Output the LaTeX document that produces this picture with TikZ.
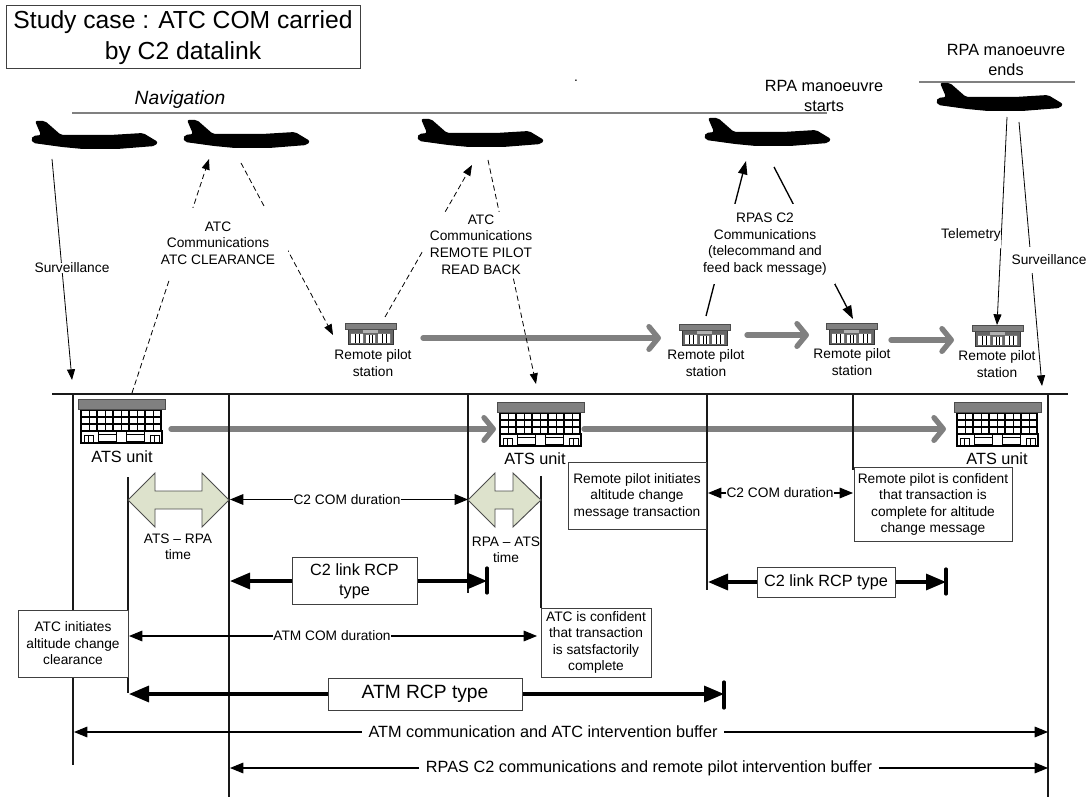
\documentclass[tikz,border=0pt]{standalone}
\usepackage{fontspec}
\setmainfont{Liberation Sans}
\usetikzlibrary{arrows.meta}
\definecolor{bandgray}{HTML}{808080}
\definecolor{paleolive}{HTML}{DDE2CC}
\tikzset{
  base/.style={font=\fontsize{10.3}{12.4}\selectfont, align=center, inner sep=0pt},
  mid/.style={font=\fontsize{12.2}{15}\selectfont, align=center, inner sep=0pt},
  textbox/.style={base, draw=black!75, fill=white, line width=0.75pt},
  rcpbox/.style={mid, draw=black!75, fill=white, line width=0.75pt},
  gap/.style={base, fill=white},
  timeline/.style={line width=1pt, black!90},
  overline/.style={line width=1pt, bandgray},
  comm/.style={line width=0.6pt, -{Triangle[length=8pt,width=6pt]}},
  commdash/.style={comm, dash pattern=on 4pt off 2.5pt},
  commstrong/.style={line width=1pt, -{Triangle[length=10pt,width=7pt]}},
  span/.style={line width=0.8pt, -{Triangle[length=10pt,width=8pt]}},
  rcparrow/.style={line width=2.4pt, -{Triangle[length=15pt,width=12pt]}},
  rcpbar/.style={line width=2.4pt, line cap=round},
  flow/.style={line width=4pt, bandgray, line cap=round, -{Straight Barb[length=7pt,width=17pt,round]}},
  blockarrow/.style={fill=paleolive, draw=black!70, line width=0.7pt},
  plane/.pic={
    \fill[black, rounded corners=1.5pt] (0,0) -- (10,0) -- (26,14) -- (75,14) -- (108,12) -- (123,21)
      -- (120,25) -- (82,28) -- (48,28) -- (27,26) -- (-2,22) -- (-4,18) -- (-2,15) -- (6,14) -- cycle;
  },
  atsbuilding/.pic={
    \fill[white] (3,10) rectangle (84,44);
    \foreach \c in {0,...,4} {
      \foreach \r in {0,1,2} {
        \draw[line width=0.9pt] (3+16*\c,11+7*\r) rectangle +(16,7);
        \draw[line width=0.5pt] (11+16*\c,11+7*\r) -- +(0,7);
      }
    }
    \draw[line width=0.8pt] (3,32) rectangle (84,44);
    \draw[line width=0.5pt] (6,36) rectangle (15,44) (10.5,36) -- (10.5,44);
    \draw[line width=0.5pt] (72,36) rectangle (81,44) (76.5,36) -- (76.5,44);
    \draw[line width=0.6pt] (20,32) rectangle (38,42) (20,35) -- (38,35);
    \draw[line width=0.6pt] (48,32) rectangle (66,42) (48,35) -- (66,35);
    \fill[bandgray, draw=black!70, line width=0.5pt] (0,0) rectangle (87,10);
  },
  stationbuilding/.pic={
    \fill[black!60] (3,6) rectangle (48,21);
    \fill[white] (6,11) rectangle (18,20) (33,11) rectangle (45,20) (21,12) rectangle (30,20);
    \draw[line width=0.5pt] (10,11) -- (10,20) (14,11) -- (14,20) (37,11) -- (37,20) (41,11) -- (41,20);
    \draw[line width=0.5pt] (24,12) -- (24,20) (27,12) -- (27,20);
    \draw[line width=0.6pt, black!80] (3,6) rectangle (48,21);
    \fill[black!30] (18,6) rectangle (33,10);
    \fill[bandgray, draw=black!70, line width=0.5pt] (0,0) rectangle (51,6);
  },
}
\begin{document}
\begin{tikzpicture}[x=0.75pt, y=-0.75pt]
  \useasboundingbox (0,0) rectangle (1089,798);

  \node[mid, draw=black!75, line width=0.75pt, font=\fontsize{18.5}{23}\selectfont, minimum width=265.5pt, minimum height=47.25pt] (titlebox) at (183,37.5) {Study case : ATC COM carried\\by C2 datalink};
  \node[font=\fontsize{14.4}{17}\selectfont\itshape, inner sep=0pt] (navlabel) at (180,100) {Navigation};
  \node[mid] (startlabel) at (824,95.5) {RPA manoeuvre\\starts};
  \node[mid] (endlabel) at (1006,60) {RPA manoeuvre\\ends};
  \node[base] (speck) at (576,81) {.};

  \coordinate (navleft) at (72,113);
  \coordinate (navright) at (827,113);
  \coordinate (endleft) at (919,82);
  \coordinate (endright) at (1075,82);
  \draw[overline] (navleft) -- (navright);
  \draw[overline] (endleft) -- (endright);

  \pic at (35,121) {plane};
  \pic at (187,120) {plane};
  \pic at (421,119) {plane};
  \pic at (708,118) {plane};
  \pic at (940,83) {plane};

  \pic at (345,323) {stationbuilding};
  \pic at (679,324) {stationbuilding};
  \pic at (826,323) {stationbuilding};
  \pic at (972,325) {stationbuilding};
  \node[base] (stationa) at (373,363) {Remote pilot\\station};
  \node[base] (stationb) at (706,363) {Remote pilot\\station};
  \node[base] (stationc) at (852,362) {Remote pilot\\station};
  \node[base] (stationd) at (997,364) {Remote pilot\\station};

  \coordinate (flowa) at (423,338);
  \coordinate (flowb) at (661,338);
  \coordinate (flowc) at (747,335);
  \coordinate (flowd) at (809,335);
  \coordinate (flowe) at (891,340);
  \coordinate (flowf) at (954,340);
  \coordinate (flowg) at (171,429);
  \coordinate (flowh) at (496,429);
  \coordinate (flowi) at (584,429);
  \coordinate (flowj) at (946,429);
  \draw[flow] (flowa) -- (flowb);
  \draw[flow] (flowc) -- (flowd);
  \draw[flow] (flowe) -- (flowf);
  \draw[flow] (flowg) -- (flowh);
  \draw[flow] (flowi) -- (flowj);

  \coordinate (survtop) at (52,159);
  \coordinate (survend) at (72,380);
  \draw[comm] (survtop) -- (survend);
  \node[gap] (survleft) at (72,268) {Surveillance};

  \coordinate (clrfoot) at (132,393);
  \coordinate (clrtip) at (209,159);
  \coordinate (clrtop) at (241,163);
  \coordinate (clrend) at (333,335);
  \draw[commdash] (clrfoot) -- (clrtip);
  \draw[commdash] (clrtop) -- (clrend);
  \node[gap, minimum width=105pt, minimum height=52pt] (clrlabel) at (218,243) {ATC\\Communications\\ATC CLEARANCE};

  \coordinate (readfoot) at (385,317);
  \coordinate (readtip) at (472,165);
  \coordinate (readtop) at (488,160);
  \coordinate (readend) at (536,384);
  \draw[commdash] (readfoot) -- (readtip);
  \draw[commdash] (readtop) -- (readend);
  \node[gap, minimum width=87pt, minimum height=48.75pt] (readlabel) at (481,244.5) {ATC\\Communications\\REMOTE PILOT\\READ BACK};

  \coordinate (cmdfoot) at (706,316);
  \coordinate (cmdtip) at (746,161);
  \coordinate (cmdtop) at (774,167);
  \coordinate (cmdend) at (853,319);
  \draw[commstrong] (cmdfoot) -- (cmdtip);
  \draw[commstrong] (cmdtop) -- (cmdend);
  \node[gap, minimum width=105pt, minimum height=60pt] (cmdlabel) at (765,244) {RPAS C2\\Communications\\(telecommand and\\feed back message)};

  \coordinate (teletop) at (1007,117);
  \coordinate (teleend) at (997,325);
  \draw[comm] (teletop) -- (teleend);
  \node[gap, minimum height=20pt] (telelabel) at (971,234.5) {Telemetry};

  \coordinate (survtopb) at (1019,122);
  \coordinate (survendb) at (1042,386);
  \draw[comm] (survtopb) -- (survendb);
  \node[gap, minimum height=19pt] (survright) at (1049,260) {Surveillance};

  \coordinate (groundleft) at (52,394);
  \coordinate (groundright) at (1068,394);
  \draw[timeline] (groundleft) -- (groundright);

  \coordinate (vaa) at (73,394);
  \coordinate (vab) at (73,765);
  \coordinate (vba) at (128,477);
  \coordinate (vbb) at (128,693);
  \coordinate (vca) at (229,394);
  \coordinate (vcb) at (229,797);
  \coordinate (vda) at (468,394);
  \coordinate (vdb) at (468,593);
  \coordinate (vea) at (541,476);
  \coordinate (veb) at (541,608);
  \coordinate (vfa) at (707,394);
  \coordinate (vfb) at (707,590);
  \coordinate (vga) at (853,394);
  \coordinate (vgb) at (853,470);
  \coordinate (vha) at (1048,394);
  \coordinate (vhb) at (1048,797);
  \draw[timeline] (vaa) -- (vab);
  \draw[timeline] (vba) -- (vbb);
  \draw[timeline] (vca) -- (vcb);
  \draw[timeline] (vda) -- (vdb);
  \draw[timeline] (vea) -- (veb);
  \draw[timeline] (vfa) -- (vfb);
  \draw[timeline] (vga) -- (vgb);
  \draw[timeline] (vha) -- (vhb);

  \pic at (78,399) {atsbuilding};
  \pic at (497,402) {atsbuilding};
  \pic at (954,402) {atsbuilding};
  \node[mid] (atsa) at (122,457) {ATS unit};
  \node[mid] (atsb) at (535,459) {ATS unit};
  \node[mid] (atsc) at (997,459) {ATS unit};

  \draw[blockarrow] (128,500) -- (155,473) -- (155,491) -- (202,491) -- (202,473) -- (229,500) -- (202,527) -- (202,509) -- (155,509) -- (155,527) -- cycle;
  \draw[blockarrow] (468,500) -- (495,473) -- (495,491) -- (513,491) -- (513,473) -- (541,500) -- (513,527) -- (513,509) -- (495,509) -- (495,527) -- cycle;
  \node[base] (atsrpa) at (178,547) {ATS -- RPA\\time};
  \node[base] (rpaats) at (506,550) {RPA -- ATS\\time};

  \node[gap] (comla) at (347,499.5) {C2 COM duration};
  \coordinate (comlaa) at (230,499.5);
  \coordinate (comlab) at (468,499.5);
  \draw[span] (comla) -- (comlaa);
  \draw[span] (comla) -- (comlab);

  \node[gap] (comlb) at (780,493) {C2 COM duration};
  \coordinate (comlba) at (708,493);
  \coordinate (comlbb) at (853,493);
  \draw[span] (comlb) -- (comlba);
  \draw[span] (comlb) -- (comlbb);

  \node[gap] (atmcom) at (332,636) {ATM COM duration};
  \coordinate (atmcoma) at (129,636);
  \coordinate (atmcomb) at (537,636);
  \draw[span] (atmcom) -- (atmcoma);
  \draw[span] (atmcom) -- (atmcomb);

  \node[textbox, minimum width=103.5pt, minimum height=49.5pt] (rpinit) at (637,496) {Remote pilot initiates\\altitude change\\message transaction};
  \node[textbox, minimum width=118.5pt, minimum height=54.75pt] (rpconf) at (933,504.5) {Remote pilot is confident\\that transaction is\\complete for altitude\\change message};
  \node[textbox, minimum width=82.5pt, minimum height=50.25pt] (atcinit) at (73,643.5) {ATC initiates\\altitude change\\clearance};
  \node[textbox, minimum width=82.5pt, minimum height=51.75pt] (atcconf) at (596,642.5) {ATC is confident\\that transaction\\is satsfactorily\\complete};

  \node[rcpbox, minimum width=93.75pt, minimum height=35.25pt] (rcpa) at (354.5,581) {C2 link RCP\\type};
  \coordinate (rcpaleft) at (230,581);
  \coordinate (rcparight) at (487,581);
  \coordinate (baratop) at (487,568);
  \coordinate (barabot) at (487,593);
  \draw[rcparrow] (rcpa) -- (rcpaleft);
  \draw[rcparrow] (rcpa) -- (rcparight);
  \draw[rcpbar] (baratop) -- (barabot);

  \node[rcpbox, minimum width=103.5pt, minimum height=22.5pt] (rcpb) at (826,582) {C2 link RCP type};
  \coordinate (rcpbleft) at (708,582);
  \coordinate (rcpbright) at (946,582);
  \coordinate (barbtop) at (946,569);
  \coordinate (barbbot) at (946,594);
  \draw[rcparrow] (rcpb) -- (rcpbleft);
  \draw[rcparrow] (rcpb) -- (rcpbright);
  \draw[rcpbar] (barbtop) -- (barbbot);

  \node[rcpbox, font=\fontsize{14.4}{17}\selectfont, minimum width=145.5pt, minimum height=24pt] (rcpc) at (425,694) {ATM RCP type};
  \coordinate (rcpcleft) at (129,694);
  \coordinate (rcpcright) at (724,694);
  \coordinate (barctop) at (724,682);
  \coordinate (barcbot) at (724,708);
  \draw[rcparrow] (rcpc) -- (rcpcleft);
  \draw[rcparrow] (rcpc) -- (rcpcright);
  \draw[rcpbar] (barctop) -- (barcbot);

  \node[mid, fill=white, inner xsep=5pt] (atmbuf) at (543,732) {ATM communication and ATC intervention buffer};
  \coordinate (atmbufa) at (74,732);
  \coordinate (atmbufb) at (1048,732);
  \draw[span] (atmbuf) -- (atmbufa);
  \draw[span] (atmbuf) -- (atmbufb);

  \node[mid, fill=white, inner xsep=5pt] (rpasbuf) at (649,768) {RPAS C2 communications and remote pilot intervention buffer};
  \coordinate (rpasbufa) at (230,768);
  \coordinate (rpasbufb) at (1048,768);
  \draw[span] (rpasbuf) -- (rpasbufa);
  \draw[span] (rpasbuf) -- (rpasbufb);
\end{tikzpicture}
\end{document}
